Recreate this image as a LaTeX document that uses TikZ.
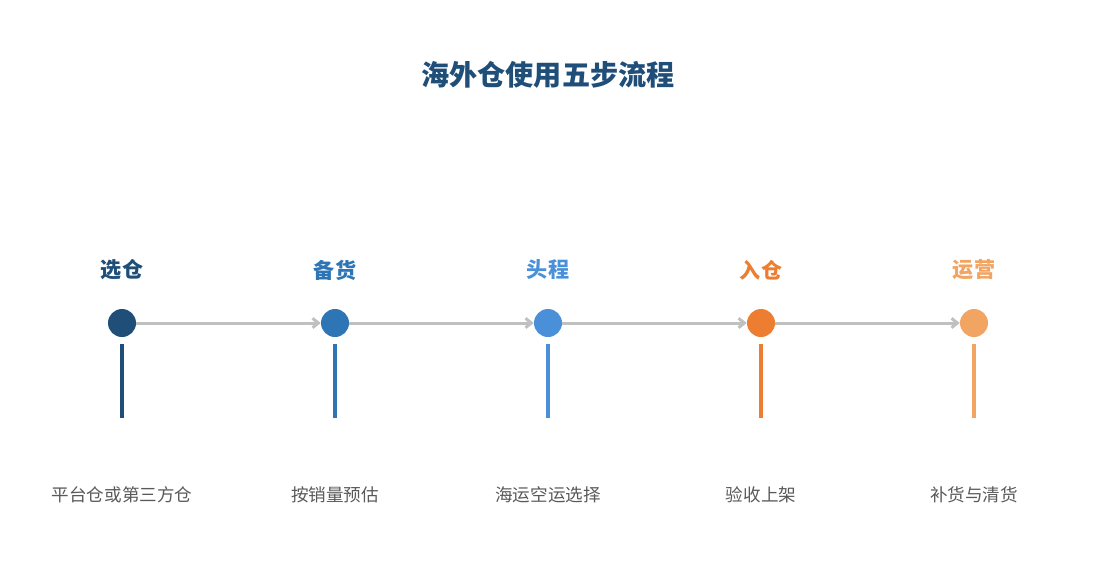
\documentclass[tikz,border=0pt]{standalone}
\usepackage{fontspec}
\newfontfamily\cjk{Noto Sans CJK SC}
\usetikzlibrary{arrows.meta}
\definecolor{stepa}{HTML}{1F4E79}
\definecolor{stepb}{HTML}{2E75B6}
\definecolor{stepc}{HTML}{4A90D9}
\definecolor{stepd}{HTML}{ED7D31}
\definecolor{stepe}{HTML}{F2A462}
\definecolor{flow}{HTML}{C0C0C0}
\tikzset{
  dot/.style={circle,fill=#1,minimum size=28\px,inner sep=0pt},
  head/.style={text=#1,font=\cjk\bfseries\fontsize{18}{20}\selectfont},
  note/.style={text=black!65,font=\cjk\fontsize{15}{17}\selectfont},
  flowarrow/.style={draw=flow,line width=3\px,-{Straight Barb[length=5pt,width=8pt]}},
}
\newlength\px \setlength\px{0.03cm}
\begin{document}
\begin{tikzpicture}[x=0.03cm,y=-0.03cm]
\useasboundingbox (0,0) rectangle (1095,585);
\node[text=stepa,font=\cjk\bfseries\fontsize{24}{28}\selectfont] (title) at (548,75) {海外仓使用五步流程};
\foreach \n/\x/\c/\h/\t in {a/122/stepa/选仓/平台仓或第三方仓,
  b/335/stepb/备货/按销量预估,
  c/548/stepc/头程/海运空运选择,
  d/761/stepd/入仓/验收上架,
  e/974/stepe/运营/补货与清货}{
  \node[head=\c] (h\n) at (\x,270) {\h};
  \node[dot=\c] (d\n) at (\x,323) {};
  \coordinate (t\n) at (\x,344);
  \coordinate (b\n) at (\x,418);
  \draw[\c,line width=4\px] (t\n) -- (b\n);
  \node[note] (l\n) at (\x,495) {\t};
}
\foreach \p/\q in {a/b,b/c,c/d,d/e}
  \draw[flowarrow] (d\p) -- (d\q);
\end{tikzpicture}
\end{document}
